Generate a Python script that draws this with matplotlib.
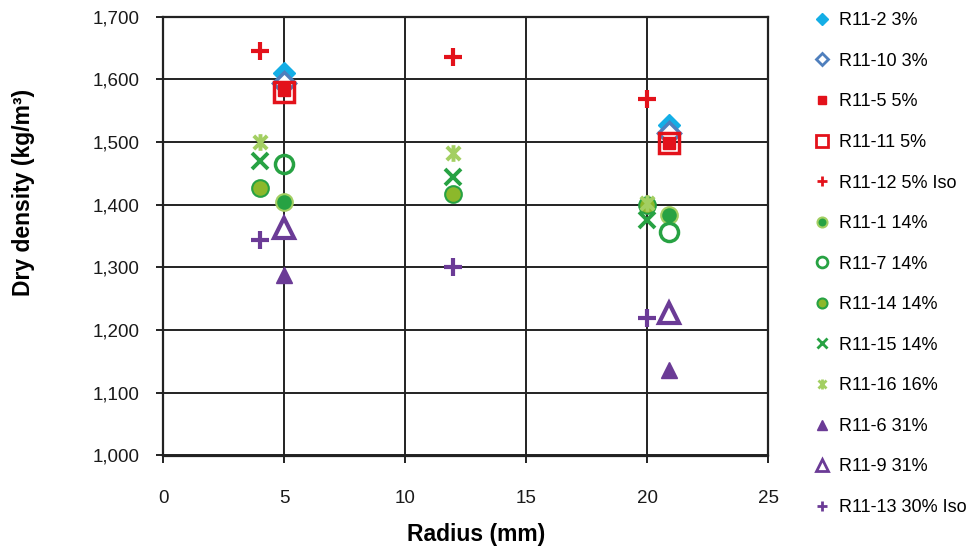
import matplotlib
matplotlib.use("Agg")
import matplotlib.pyplot as plt
from matplotlib.path import Path
from matplotlib.ticker import FuncFormatter, MultipleLocator

plt.rcParams["font.family"] = ["Liberation Sans", "DejaVu Sans"]

# dry density (kg/m3) against radius (mm), one list pair per specimen
labels = ["R11-2 3%", "R11-10 3%", "R11-5 5%", "R11-11 5%", "R11-12 5% Iso",
          "R11-1 14%", "R11-7 14%", "R11-14 14%", "R11-15 14%", "R11-16 16%",
          "R11-6 31%", "R11-9 31%", "R11-13 30% Iso"]
r11_2_x, r11_2_y = [5, 20.9], [1610, 1527]
r11_10_x, r11_10_y = [5, 20.9], [1595, 1514]
r11_5_x, r11_5_y = [5, 20.9], [1583, 1498]
r11_11_x, r11_11_y = [5, 20.9], [1580, 1498]
r11_12_x, r11_12_y = [4, 12, 20], [1645, 1636, 1568]
r11_1_x, r11_1_y = [5, 20.9], [1405, 1384]
r11_7_x, r11_7_y = [5, 20.9], [1465, 1357]
r11_14_x, r11_14_y = [4, 12, 20], [1427, 1417, 1400]
r11_15_x, r11_15_y = [4, 12, 20], [1470, 1445, 1376]
r11_16_x, r11_16_y = [4, 12, 20], [1500, 1482, 1403]
r11_6_x, r11_6_y = [5, 20.9], [1288, 1137]
r11_9_x, r11_9_y = [5, 20.9], [1363, 1227]
r11_13_x, r11_13_y = [4, 12, 20], [1343, 1301, 1219]

CYAN = "#14aee6"
STEEL = "#4f7fbd"
RED = "#e3121b"
GREEN = "#27a243"
OLIVE = "#8cb82b"
LIGHT = "#a3cf62"
PURPLE = "#6b3b96"

star = Path([(-1, -1), (1, 1), (-1, 1), (1, -1), (0, -1.25), (0, 1.25)],
            [Path.MOVETO, Path.LINETO, Path.MOVETO, Path.LINETO, Path.MOVETO, Path.LINETO])

styles = [
    dict(marker="D", ms=11, mfc=CYAN, mec=CYAN, mew=1),
    dict(marker="D", ms=11, mfc="white", mec=STEEL, mew=2.5),
    dict(marker="s", ms=9, mfc=RED, mec=RED, mew=1),
    dict(marker="s", ms=14, mfc="none", mec=RED, mew=2.5),
    dict(marker="+", ms=13, mfc=RED, mec=RED, mew=3),
    dict(marker="o", ms=12, mfc=GREEN, mec=LIGHT, mew=1.5),
    dict(marker="o", ms=13, mfc="none", mec=GREEN, mew=2.5),
    dict(marker="o", ms=12, mfc=OLIVE, mec=GREEN, mew=1.5),
    dict(marker="x", ms=12, mfc=GREEN, mec=GREEN, mew=2.8),
    dict(marker=star, ms=12, mfc=LIGHT, mec=LIGHT, mew=2.8),
    dict(marker="^", ms=12, mfc=PURPLE, mec=PURPLE, mew=1),
    dict(marker="^", ms=14, mfc="white", mec=PURPLE, mew=3),
    dict(marker="+", ms=13, mfc=PURPLE, mec=PURPLE, mew=3),
]
xs = [r11_2_x, r11_10_x, r11_5_x, r11_11_x, r11_12_x, r11_1_x, r11_7_x,
      r11_14_x, r11_15_x, r11_16_x, r11_6_x, r11_9_x, r11_13_x]
ys = [r11_2_y, r11_10_y, r11_5_y, r11_11_y, r11_12_y, r11_1_y, r11_7_y,
      r11_14_y, r11_15_y, r11_16_y, r11_6_y, r11_9_y, r11_13_y]

fig = plt.figure(figsize=(9.72, 5.48), dpi=100)
ax = fig.add_axes([163 / 972, 1 - 455.5 / 548, 605 / 972, 438.8 / 548])

for x, y, lab, st in zip(xs, ys, labels, styles):
    ax.plot(x, y, ls="none", label=lab, zorder=3, **st)

ax.set_xlim(0, 25)
ax.set_ylim(1000, 1700)
ax.xaxis.set_major_locator(MultipleLocator(5))
ax.yaxis.set_major_locator(MultipleLocator(100))
ax.yaxis.set_major_formatter(FuncFormatter(lambda v, p: f"{v:,.0f}"))
ax.grid(True, color="#222222", lw=1.4)
ax.set_axisbelow(True)
for sp in ax.spines.values():
    sp.set_color("#222222")
    sp.set_linewidth(1.6)
ax.tick_params(axis="both", direction="out", length=5, width=1.4, color="#222222",
               labelsize=13.5, labelcolor="#1a1a1a")
ax.tick_params(axis="y", pad=12)
ax.tick_params(axis="x", pad=20)

ax.set_xlabel("Radius (mm)", fontsize=16.5, fontweight="bold")
ax.set_ylabel("Dry density (kg/m³)", fontsize=16.5, fontweight="bold")
ax.xaxis.set_label_coords(0.517, -0.181)
ax.xaxis.label.set_va("center")
ax.yaxis.set_label_coords(-0.23, 0.60)
ax.yaxis.label.set_va("center")

leg = fig.legend(loc="upper left", bbox_to_anchor=(797 / 972, 1 + 4 / 548),
                 frameon=False, fontsize=13, markerscale=0.6, handlelength=1.0,
                 handletextpad=0.4, labelspacing=1.305, numpoints=1)
for h in leg.legend_handles:
    h.set_markeredgewidth(min(h.get_markeredgewidth(), 2.0))

fig.savefig("out.png", dpi=100)
